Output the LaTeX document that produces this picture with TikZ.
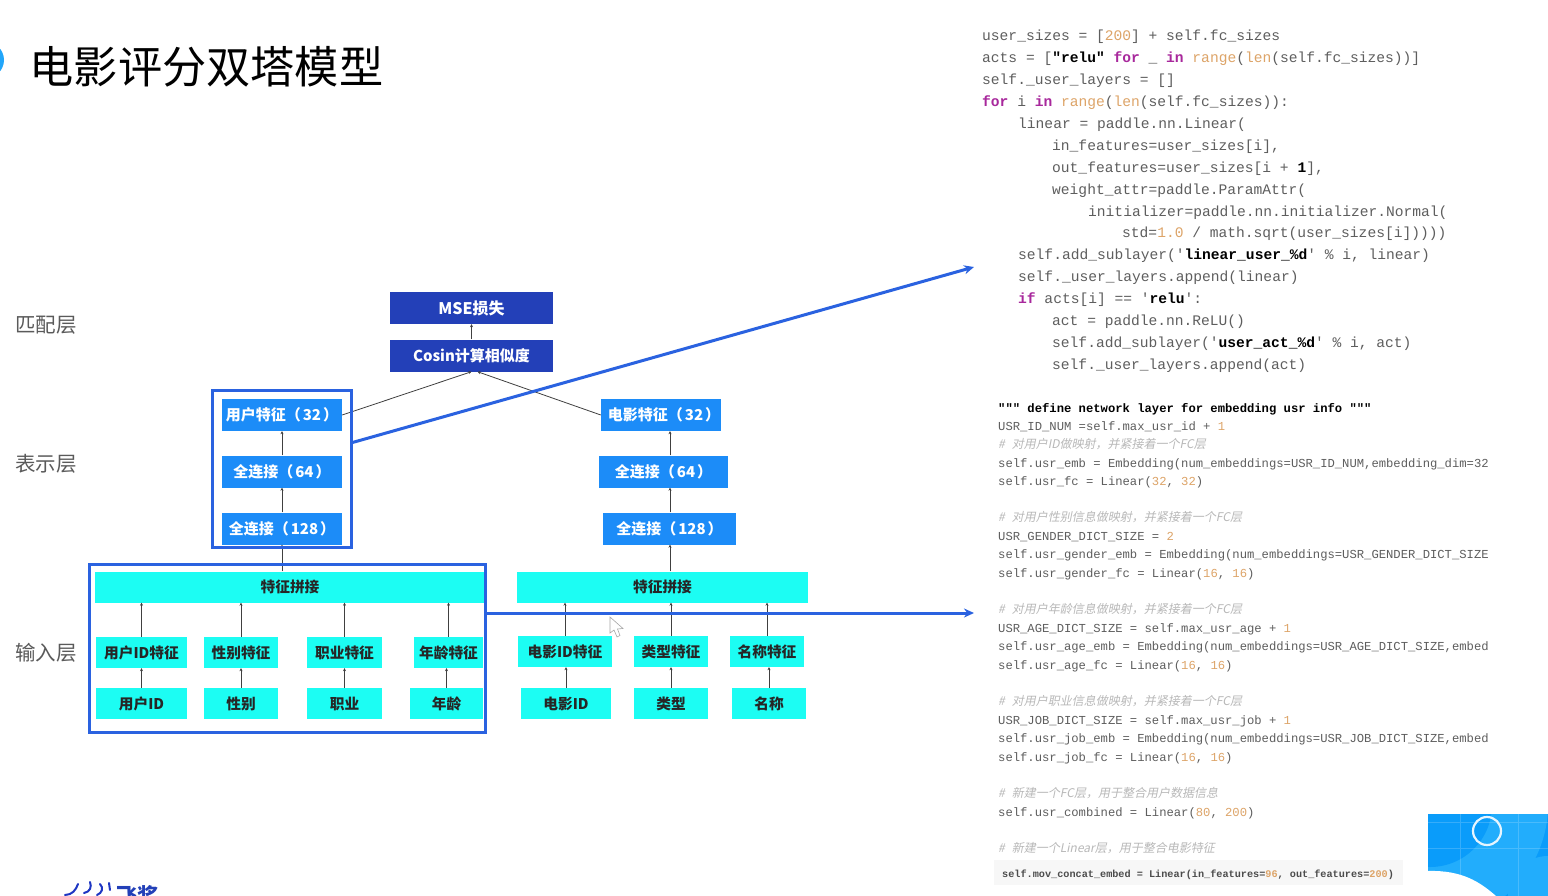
\documentclass[tikz,border=0pt]{standalone}
\usepackage{fontspec}
\setmainfont{Noto Sans CJK SC}
\setmonofont{Liberation Mono}
\newfontfamily\cmtfont[FakeSlant=0.2]{Noto Sans CJK SC}
\usetikzlibrary{arrows.meta}
\definecolor{fcblue}{HTML}{1C8CF8}
\definecolor{topblue}{HTML}{2340B8}
\definecolor{inputcyan}{HTML}{1CFDF3}
\definecolor{framblue}{HTML}{2A62E0}
\definecolor{layergray}{HTML}{5A5A5A}
\definecolor{codegray}{HTML}{5E5E5E}
\definecolor{kwpurple}{HTML}{A8289C}
\definecolor{numorange}{HTML}{DDA468}
\definecolor{cornerblue}{HTML}{0A9CFA}
\definecolor{cornerlight}{HTML}{22ADFC}
\newcommand{\kwd}[1]{\textcolor{kwpurple}{\bfseries #1}}
\newcommand{\cnum}[1]{\textcolor{numorange}{#1}}
\newcommand{\strb}[1]{\textcolor{black}{\bfseries #1}}
\newcommand{\parval}[1]{（\hspace{2pt}#1\hspace{2pt}）}
\tikzset{
  fcbox/.style={fill=fcblue,text=white,inner sep=0pt,minimum height=32pt,font=\fontsize{15}{15}\selectfont\bfseries},
  topbox/.style={fill=topblue,text=white,inner sep=0pt,minimum width=163pt,minimum height=32pt,font=\fontsize{15}{15}\selectfont\bfseries},
  inbox/.style={fill=inputcyan,text=black!85,inner sep=0pt,minimum height=31pt,font=\fontsize{14.7}{14.7}\selectfont\bfseries},
  framebox/.style={draw=framblue,line width=3pt,inner sep=0pt},
  layerlabel/.style={text=layergray,inner sep=0pt,font=\fontsize{20.5}{20.5}\selectfont},
  link/.style={draw=black!75,line width=0.8pt,-{Stealth[length=3pt,width=3pt]}},
  bigarrow/.style={draw=framblue,line width=3pt,-{Stealth[length=10pt,width=9pt]}},
  codeline/.style={anchor=base west,inner sep=0pt,text=codegray,font=\ttfamily\fontsize{14.6}{14.6}\selectfont},
  codesmall/.style={anchor=base west,inner sep=0pt,text=codegray,font=\ttfamily\fontsize{12.2}{12.2}\selectfont},
  codecmt/.style={anchor=base west,inner sep=0pt,text=black!28,font=\cmtfont\fontsize{12}{12}\selectfont},
}
\begin{document}
\begin{tikzpicture}[x=1pt,y=-1pt]
\useasboundingbox (0,0) rectangle (1548,896);
\fill[white] (0,0) rectangle (1548,896);
\begin{scope}
\clip (0,0) rectangle (1548,896);
\fill[cornerblue!90!white] (-14,60) circle (18);
\end{scope}
\node[anchor=west,inner sep=0pt,font=\fontsize{44.2}{44.2}\selectfont] (title) at (29.5,67) {电影评分双塔模型};

\node[layerlabel] (layermatch) at (46,325) {匹配层};
\node[layerlabel] (layerrepr) at (46,464) {表示层};
\node[layerlabel] (layerinput) at (46,653) {输入层};

\node[topbox,font=\fontsize{16}{16}\selectfont\bfseries] (mse) at (471.5,308) {MSE损失};
\node[topbox] (cosin) at (471.5,355.5) {Cosin计算相似度};

\node[fcbox,minimum width=120pt] (usrfc32) at (282,415) {用户特征\parval{32}};
\node[fcbox,minimum width=120pt] (usrfc64) at (282,471.5) {全连接\parval{64}};
\node[fcbox,minimum width=120pt] (usrfc128) at (282,528.5) {全连接\parval{128}};
\node[fcbox,minimum width=120pt] (movfc32) at (661,415) {\hspace{6pt}电影特征\parval{32}};
\node[fcbox,minimum width=129pt] (movfc64) at (663.5,471.5) {全连接\parval{64}};
\node[fcbox,minimum width=133pt] (movfc128) at (669.5,528.5) {全连接\parval{128}};
\coordinate (usraxis) at (282,500);
\coordinate (movaxis) at (670,500);

\node[inbox,minimum width=390pt] (usrconcat) at (290,587) {特征拼接};
\node[inbox,minimum width=291pt] (movconcat) at (662.5,587) {特征拼接};

\node[inbox,minimum width=91pt] (usridfeat) at (141.5,652.5) {用户ID特征};
\node[inbox,minimum width=74pt] (genderfeat) at (241,652.5) {性别特征};
\node[inbox,minimum width=75pt] (jobfeat) at (344.5,652.5) {职业特征};
\node[inbox,minimum width=69pt] (agefeat) at (448.5,652.5) {年龄特征};
\node[inbox,minimum width=94pt] (movidfeat) at (565,651.5) {电影ID特征};
\node[inbox,minimum width=74pt] (typefeat) at (671,651.5) {类型特征};
\node[inbox,minimum width=74pt] (namefeat) at (767,651.5) {名称特征};

\node[inbox,minimum width=91pt] (usrid) at (141.5,703.5) {用户ID};
\node[inbox,minimum width=74pt] (gender) at (241,703.5) {性别};
\node[inbox,minimum width=75pt] (job) at (344.5,703.5) {职业};
\node[inbox,minimum width=73pt] (age) at (446.5,703.5) {年龄};
\node[inbox,minimum width=90pt] (movid) at (566,703.5) {电影ID};
\node[inbox,minimum width=74pt] (movtype) at (671,703.5) {类型};
\node[inbox,minimum width=74pt] (movname) at (769,703.5) {名称};

\draw[link] (cosin.north) -- (mse.south);
\draw[link] (usrfc32.east) -- (cosin.south);
\draw[link] (movfc32.west) -- ([xshift=6pt]cosin.south);
\draw[link] (usrfc64.north) -- (usrfc32.south);
\draw[link] (usrfc128.north) -- (usrfc64.south);
\draw[link] (usrconcat.north -| usraxis) -- (usrfc128.south);
\draw[link] (movfc64.north -| movaxis) -- (movfc32.south -| movaxis);
\draw[link] (movfc128.north -| movaxis) -- (movfc64.south -| movaxis);
\draw[link] (movconcat.north -| movaxis) -- (movfc128.south -| movaxis);

\draw[link] (usridfeat.north) -- (usridfeat.north |- usrconcat.south);
\draw[link] (genderfeat.north) -- (genderfeat.north |- usrconcat.south);
\draw[link] (jobfeat.north) -- (jobfeat.north |- usrconcat.south);
\draw[link] (agefeat.north) -- (agefeat.north |- usrconcat.south);
\draw[link] (movidfeat.north) -- (movidfeat.north |- movconcat.south);
\draw[link] (typefeat.north) -- (typefeat.north |- movconcat.south);
\draw[link] (namefeat.north) -- (namefeat.north |- movconcat.south);

\draw[link] (usrid.north) -- (usrid.north |- usridfeat.south);
\draw[link] (gender.north) -- (gender.north |- genderfeat.south);
\draw[link] (job.north) -- (job.north |- jobfeat.south);
\draw[link] (age.north) -- (age.north |- agefeat.south);
\draw[link] (movid.north) -- (movid.north |- movidfeat.south);
\draw[link] (movtype.north) -- (movtype.north |- typefeat.south);
\draw[link] (movname.north) -- (movname.north |- namefeat.south);

\node[framebox,minimum width=139pt,minimum height=157pt] (usrframe) at (281.5,468.5) {};
\node[framebox,minimum width=396pt,minimum height=168pt] (inputframe) at (287,648.5) {};
\coordinate (codetop) at (974,267);
\coordinate (codebottom) at (974,613);
\draw[bigarrow] ([yshift=26pt]usrframe.east) -- (codetop);
\draw[bigarrow] ([yshift=35.5pt]inputframe.east) -- (codebottom);

\draw[gray!70,fill=white,line width=0.6pt] (610,617) -- (610,633) -- (614,630) -- (617,637) -- (620,635.5) -- (617.5,629) -- (623,628.5) -- cycle;

\node[codeline] (usra) at (982,41) {user\_sizes = [\cnum{200}] + self.fc\_sizes};
\node[codeline] (usrb) at (982,63) {acts = [\strb{"relu"} \kwd{for} \_ \kwd{in} \cnum{range}(\cnum{len}(self.fc\_sizes))]};
\node[codeline] (usrc) at (982,85) {self.\_user\_layers = []};
\node[codeline] (usrd) at (982,107) {\kwd{for} i \kwd{in} \cnum{range}(\cnum{len}(self.fc\_sizes)):};
\node[codeline] (usre) at (1018,129) {linear = paddle.nn.Linear(};
\node[codeline] (usrf) at (1052,151) {in\_features=user\_sizes[i],};
\node[codeline] (usrg) at (1052,173) {out\_features=user\_sizes[i + \strb{1}],};
\node[codeline] (usrh) at (1052,195) {weight\_attr=paddle.ParamAttr(};
\node[codeline] (usri) at (1088,217) {initializer=paddle.nn.initializer.Normal(};
\node[codeline] (usrj) at (1122,238) {std=\cnum{1.0} / math.sqrt(user\_sizes[i]))))};
\node[codeline] (usrk) at (1018,260) {self.add\_sublayer('\strb{linear\_user\_\%d}' \% i, linear)};
\node[codeline] (usrl) at (1018,282) {self.\_user\_layers.append(linear)};
\node[codeline] (usrm) at (1018,303.5) {\kwd{if} acts[i] == '\strb{relu}':};
\node[codeline] (usrn) at (1052,325.5) {act = paddle.nn.ReLU()};
\node[codeline] (usro) at (1052,347.5) {self.add\_sublayer('\strb{user\_act\_\%d}' \% i, act)};
\node[codeline] (usrp) at (1052,369.5) {self.\_user\_layers.append(act)};

\begin{scope}
\clip (990,395) rectangle (1489,780);
\node[codesmall,text=black] (embdoc) at (998,412) {\bfseries """ define network layer for embedding usr info """};
\node[codesmall] (emba) at (998,430) {USR\_ID\_NUM =self.max\_usr\_id + \cnum{1}};
\node[codecmt] (embb) at (998,448) {\#\hspace{7pt}对用户ID做映射，并紧接着一个FC层};
\node[codesmall] (embc) at (998,467) {self.usr\_emb = Embedding(num\_embeddings=USR\_ID\_NUM,embedding\_dim=32};
\node[codesmall] (embd) at (998,485) {self.usr\_fc = Linear(\cnum{32}, \cnum{32})};
\node[codecmt] (embe) at (998,521) {\#\hspace{7pt}对用户性别信息做映射，并紧接着一个FC层};
\node[codesmall] (embf) at (998,540) {USR\_GENDER\_DICT\_SIZE = \cnum{2}};
\node[codesmall] (embg) at (998,558) {self.usr\_gender\_emb = Embedding(num\_embeddings=USR\_GENDER\_DICT\_SIZE};
\node[codesmall] (embh) at (998,577) {self.usr\_gender\_fc = Linear(\cnum{16}, \cnum{16})};
\node[codecmt] (embi) at (998,613) {\#\hspace{7pt}对用户年龄信息做映射，并紧接着一个FC层};
\node[codesmall] (embj) at (998,632) {USR\_AGE\_DICT\_SIZE = self.max\_usr\_age + \cnum{1}};
\node[codesmall] (embk) at (998,650) {self.usr\_age\_emb = Embedding(num\_embeddings=USR\_AGE\_DICT\_SIZE,embed};
\node[codesmall] (embl) at (998,669) {self.usr\_age\_fc = Linear(\cnum{16}, \cnum{16})};
\node[codecmt] (embm) at (998,705) {\#\hspace{7pt}对用户职业信息做映射，并紧接着一个FC层};
\node[codesmall] (embn) at (998,724) {USR\_JOB\_DICT\_SIZE = self.max\_usr\_job + \cnum{1}};
\node[codesmall] (embo) at (998,742) {self.usr\_job\_emb = Embedding(num\_embeddings=USR\_JOB\_DICT\_SIZE,embed};
\node[codesmall] (embp) at (998,761) {self.usr\_job\_fc = Linear(\cnum{16}, \cnum{16})};
\end{scope}
\node[codecmt] (embq) at (998,797) {\#\hspace{7pt}新建一个FC层，用于整合用户数据信息};
\node[codesmall] (embr) at (998,816) {self.usr\_combined = Linear(\cnum{80}, \cnum{200})};
\node[codecmt] (embs) at (998,852) {\#\hspace{7pt}新建一个Linear层，用于整合电影特征};
\fill[black!3] (994,860) rectangle (1403,885);
\node[codesmall,text=black!70,font=\ttfamily\bfseries\fontsize{10.2}{10.2}\selectfont] (embt) at (1002,877) {self.mov\_concat\_embed = Linear(in\_features=\cnum{96}, out\_features=\cnum{200})};

\begin{scope}
\clip (1428,814) rectangle (1548,896);
\fill[cornerblue] (1428,814) rectangle (1548,896);
\fill[cornerlight] (1430,805) circle (118);
\fill[cornerblue] (1430,805) circle (62);
\fill[cornerlight] (1548,896) circle (40);
\draw[white,opacity=0.18,line width=1pt] (1460,814) -- (1460,896) (1518,814) -- (1518,896) (1428,822) -- (1548,822) (1428,848) -- (1548,848);
\fill[white] (1428,871) .. controls (1462,870) and (1480,882) .. (1496,896) -- (1428,896) -- cycle;
\end{scope}
\draw[white!90!cornerblue,line width=2.2pt] (1487,831) circle (14);

\node[anchor=west,inner sep=0pt,text=topblue,font=\fontsize{21}{21}\selectfont\bfseries] (logotext) at (116,895) {飞桨};
\draw[topblue!85!blue,line width=2pt,line cap=round] (65,895) .. controls (72,895) and (76,890) .. (78,884)
  (84,893) .. controls (90,892) and (92,887) .. (90,882)
  (100,884) .. controls (104,888) and (102,893) .. (97,895) (109,883) -- (110,890);
\end{tikzpicture}
\end{document}
